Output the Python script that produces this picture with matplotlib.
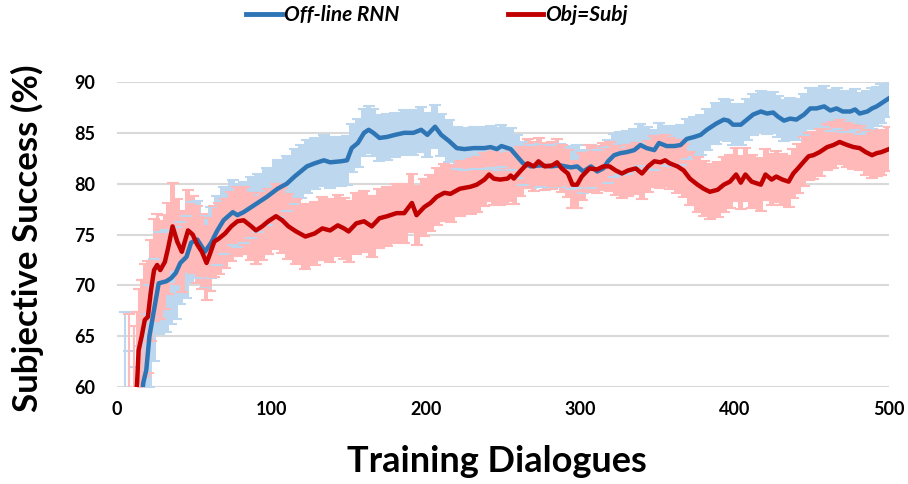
import matplotlib.pyplot as plt
from matplotlib.lines import Line2D

# Off-line RNN (blue)
rnn_x = [5, 8, 11, 14, 17, 19, 21, 24, 27, 32,
         35, 38, 41, 45, 48, 52, 57, 61, 65, 69,
         75, 78, 82, 87, 91, 97, 104, 110, 115, 119,
         123, 128, 134, 138, 145, 149, 152, 156, 160, 163,
         166, 170, 175, 180, 186, 192, 197, 201, 206, 210,
         215, 220, 225, 231, 238, 242, 246, 249, 255, 259,
         263, 268, 274, 281, 287, 294, 298, 302, 307, 311,
         315, 318, 322, 326, 330, 335, 339, 343, 348, 351,
         356, 361, 365, 369, 374, 378, 382, 388, 393, 396,
         399, 404, 408, 412, 417, 421, 425, 428, 432, 436,
         440, 445, 449, 453, 458, 462, 466, 470, 475, 478,
         481, 486, 489, 492, 495, 500]
rnn_y = [52, 50, 52, 56, 60.4, 61.7, 65.0, 67.6, 70.2, 70.4,
         70.7, 71.2, 72.2, 72.8, 74.2, 74.5, 73.3, 74.2, 75.4, 76.4,
         77.2, 76.9, 77.2, 77.7, 78.1, 78.7, 79.5, 80.0, 80.7, 81.2,
         81.7, 82.0, 82.3, 82.1, 82.2, 82.3, 83.5, 84.0, 85.0, 85.3,
         85.0, 84.5, 84.6, 84.8, 85.0, 85.0, 85.3, 84.8, 85.6, 84.8,
         84.2, 83.5, 83.4, 83.5, 83.5, 83.6, 83.4, 83.7, 83.4, 82.7,
         82.0, 81.7, 81.8, 81.7, 81.8, 81.6, 81.7, 81.2, 81.7, 81.2,
         81.5, 82.2, 82.8, 83.0, 83.1, 83.3, 83.8, 83.5, 83.3, 84.0,
         83.7, 83.7, 83.8, 84.4, 84.6, 84.8, 85.3, 85.9, 86.3, 86.2,
         85.8, 85.8, 86.3, 86.8, 87.1, 86.9, 87.0, 86.6, 86.2, 86.4,
         86.3, 86.8, 87.4, 87.4, 87.6, 87.2, 87.4, 87.1, 87.1, 87.3,
         86.9, 87.1, 87.4, 87.6, 87.9, 88.4]
rnn_err = [15.4, 13.5, 10, 8, 6, 5.5, 5, 5, 5, 5,
           4.5, 4.5, 4, 4, 4, 3.8, 3.6, 3.5, 3.4, 3.3,
           3.2, 3.1, 3.0, 3.0, 2.9, 2.8, 2.8, 2.7, 2.7, 2.6,
           2.6, 2.5, 2.5, 2.5, 2.4, 2.4, 2.4, 2.4, 2.3, 2.3,
           2.3, 2.3, 2.3, 2.2, 2.2, 2.2, 2.2, 2.2, 2.1, 2.1,
           2.1, 2.1, 2.1, 2.1, 2.1, 2.1, 2.1, 2.1, 2.1, 2.1,
           2.1, 2.1, 2.1, 2.1, 2.1, 2.1, 2.1, 2.1, 2.1, 2.1,
           2.1, 2.1, 2.1, 2.1, 2.1, 2.1, 2.1, 2.1, 2.0, 2.0,
           2.0, 2.0, 2.0, 2.0, 2.0, 2.0, 2.0, 2.0, 2.0, 2.0,
           2.0, 2.0, 2.0, 2.0, 2.0, 2.0, 2.0, 2.0, 2.0, 2.0,
           2.0, 2.0, 2.0, 2.0, 2.0, 2.0, 2.0, 2.0, 2.0, 2.0,
           2.0, 2.0, 2.0, 1.9, 1.9, 1.8]

# Obj=Subj (red)
obj_x = [8, 11, 13, 14, 16, 18, 20, 22, 24, 26,
         28, 31, 33, 36, 39, 42, 46, 49, 52, 55,
         58, 60, 63, 66, 70, 74, 78, 82, 87, 90,
         94, 98, 103, 107, 111, 116, 122, 128, 133, 138,
         143, 147, 150, 155, 160, 165, 170, 175, 181, 186,
         191, 194, 199, 203, 207, 212, 216, 222, 229, 233,
         238, 241, 244, 248, 253, 255, 257, 261, 266, 270,
         273, 277, 282, 285, 288, 292, 295, 298, 301, 306,
         311, 315, 319, 323, 327, 331, 336, 340, 344, 348,
         352, 355, 358, 363, 367, 371, 376, 380, 384, 389,
         393, 397, 401, 404, 407, 411, 417, 420, 424, 427,
         431, 435, 438, 441, 445, 448, 451, 455, 460, 464,
         468, 473, 477, 481, 485, 489, 492, 495, 500]
obj_y = [55, 57, 60.4, 63.6, 65.0, 66.6, 66.9, 69.5, 71.5, 72.0,
         71.5, 72.3, 73.6, 75.8, 74.3, 73.3, 75.4, 75.0, 74.0, 73.3,
         72.2, 73.0, 74.3, 74.6, 75.1, 75.8, 76.3, 76.4, 75.8, 75.4,
         75.8, 76.3, 76.8, 76.4, 75.8, 75.3, 74.8, 75.1, 75.6, 75.4,
         75.9, 75.6, 75.3, 76.1, 76.3, 75.8, 76.6, 76.8, 77.1, 77.1,
         78.1, 76.9, 77.7, 78.1, 78.7, 79.1, 79.0, 79.5, 79.7, 79.9,
         80.4, 80.9, 80.5, 80.4, 80.5, 80.8, 80.5, 81.2, 82.0, 81.7,
         82.2, 81.7, 81.8, 82.1, 81.5, 81.0, 79.9, 79.9, 80.7, 81.5,
         81.4, 81.7, 81.7, 81.3, 81.0, 81.3, 81.5, 81.0, 81.7, 82.2,
         82.1, 82.3, 82.0, 81.7, 81.3, 80.5, 79.9, 79.5, 79.2, 79.4,
         79.9, 80.2, 80.9, 80.1, 80.9, 80.2, 79.9, 80.9, 80.4, 80.7,
         80.4, 80.2, 81.0, 81.5, 82.2, 82.7, 82.8, 83.1, 83.6, 83.8,
         84.1, 83.8, 83.6, 83.5, 83.1, 82.8, 83.0, 83.1, 83.4]
obj_err = [12.2, 9, 7, 6, 5.5, 5.5, 5.5, 5, 5, 5,
           4.8, 4.6, 4.5, 4.3, 4.2, 4.0, 4.0, 3.8, 3.8, 3.7,
           3.6, 3.6, 3.5, 3.5, 3.4, 3.4, 3.4, 3.3, 3.3, 3.3,
           3.3, 3.2, 3.2, 3.2, 3.2, 3.2, 3.2, 3.1, 3.1, 3.1,
           3.0, 3.0, 3.0, 3.0, 3.0, 3.0, 2.9, 2.9, 2.9, 2.9,
           2.9, 2.9, 2.8, 2.8, 2.8, 2.8, 2.8, 2.7, 2.7, 2.7,
           2.6, 2.6, 2.6, 2.5, 2.5, 2.5, 2.5, 2.4, 2.4, 2.4,
           2.3, 2.3, 2.3, 2.3, 2.3, 2.3, 2.3, 2.3, 2.3, 2.3,
           2.3, 2.3, 2.4, 2.4, 2.4, 2.5, 2.5, 2.5, 2.5, 2.5,
           2.5, 2.5, 2.5, 2.6, 2.6, 2.6, 2.7, 2.7, 2.7, 2.7,
           2.7, 2.6, 2.6, 2.6, 2.6, 2.6, 2.6, 2.5, 2.5, 2.5,
           2.5, 2.5, 2.4, 2.4, 2.4, 2.3, 2.3, 2.3, 2.3, 2.3,
           2.2, 2.2, 2.2, 2.2, 2.2, 2.2, 2.2, 2.2, 2.2]

x_ticks = [0, 100, 200, 300, 400, 500]
y_ticks = [60, 65, 70, 75, 80, 85, 90]

blue = '#2E75B6'
blue_light = '#BDD7EE'
red = '#C00000'
red_light = '#FFB9B9'

plt.rcParams['font.family'] = ['Lato', 'DejaVu Sans']

fig = plt.figure(figsize=(9.08, 4.84), dpi=100)
ax = fig.add_axes([117 / 908, 1 - 387 / 484, 772 / 908, 305 / 484])


def band(x, y, err, color):
    lo = [a - b for a, b in zip(y, err)]
    hi = [a + b for a, b in zip(y, err)]
    main = [i for i in range(len(x)) if y[i] >= 58]
    early = [i for i in range(len(x)) if y[i] < 66]
    ax.fill_between([x[i] for i in main], [lo[i] for i in main],
                    [hi[i] for i in main], step='mid', color=color, lw=0)
    # thin bars for the first few dialogues, caps only elsewhere
    ax.errorbar([x[i] for i in early], [y[i] for i in early],
                yerr=[err[i] for i in early], fmt='none', ecolor=color,
                elinewidth=1.5, capsize=4, capthick=1.5)
    ax.errorbar([x[i] for i in main], [y[i] for i in main],
                yerr=[err[i] for i in main], fmt='none', ecolor=color,
                elinewidth=0, capsize=4, capthick=1.5)


band(rnn_x, rnn_y, rnn_err, blue_light)
band(obj_x, obj_y, obj_err, red_light)
ax.plot(rnn_x, rnn_y, color=blue, lw=3.2, solid_joinstyle='round')
ax.plot(obj_x, obj_y, color=red, lw=3.2, solid_joinstyle='round')

ax.set_xlim(0, 500)
ax.set_ylim(60, 90)
ax.set_xticks(x_ticks)
ax.set_yticks(y_ticks)
ax.yaxis.grid(True, color='#D9D9D9', lw=1.5)
ax.set_axisbelow(True)
for s in ax.spines.values():
    s.set_visible(False)
ax.tick_params(axis='both', length=0, labelsize=13)
ax.tick_params(axis='y', pad=16)
ax.tick_params(axis='x', pad=10)
for lab in ax.get_xticklabels() + ax.get_yticklabels():
    lab.set_fontweight('bold')

fig.text(27 / 908, 1 - 238 / 484, 'Subjective Success (%)', rotation=90,
         ha='center', va='center', fontsize=25, fontweight='bold')
fig.text(497 / 908, 1 - 461 / 484, 'Training Dialogues',
         ha='center', va='center', fontsize=26, fontweight='bold')

handles = [Line2D([], [], color=blue, lw=3.5), Line2D([], [], color=red, lw=3.5)]
fig.legend(handles, ['Off-line RNN', 'Obj=Subj'], loc='center',
           bbox_to_anchor=(437 / 908, 1 - 15 / 484), ncol=2, frameon=False,
           prop={'weight': 'bold', 'style': 'italic', 'size': 15},
           handlelength=1.7, handletextpad=0.1, columnspacing=5.2)

fig.savefig('out.png', dpi=100)
